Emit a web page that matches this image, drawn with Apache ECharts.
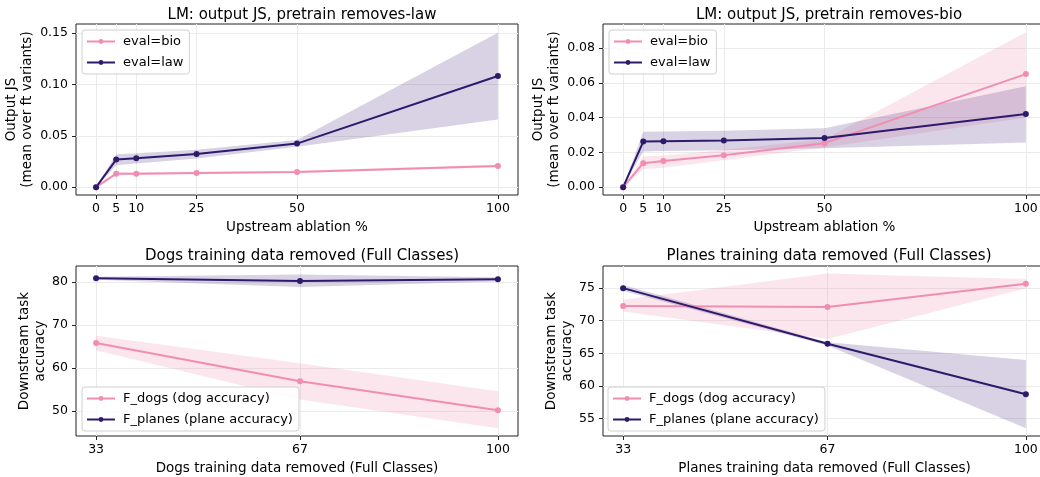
<!DOCTYPE html>
<html>
<head>
<meta charset="utf-8">
<script src="https://cdn.jsdelivr.net/npm/echarts@6/dist/echarts.min.js"></script>
<style>html,body{margin:0;padding:0;background:#fff}#c{width:1040px;height:477px}</style>
</head>
<body>
<div id="c"></div>
<script>
// ---- data ----
const titles = ['LM: output JS, pretrain removes-law','LM: output JS, pretrain removes-bio',
  'Dogs training data removed (Full Classes)','Planes training data removed (Full Classes)'];
const ablationX = [0, 5, 10, 25, 50, 100];
const removedX = [33, 67, 100];
// panel 1: pretrain removes-law
const p1Bio = [0, 0.0132, 0.0132, 0.0139, 0.0149, 0.0207];
const p1BioLo = [0, 0.0118, 0.0120, 0.0128, 0.0138, 0.0192];
const p1BioHi = [0, 0.0146, 0.0145, 0.0150, 0.0160, 0.0222];
const p1Law = [0, 0.0269, 0.0282, 0.0324, 0.0425, 0.1084];
const p1LawLo = [0, 0.0215, 0.0230, 0.0280, 0.0395, 0.0660];
const p1LawHi = [0, 0.0320, 0.0330, 0.0365, 0.0460, 0.1505];
// panel 2: pretrain removes-bio
const p2Bio = [0, 0.0138, 0.0150, 0.0184, 0.0253, 0.0650];
const p2BioLo = [0, 0.0104, 0.0112, 0.0155, 0.0228, 0.0400];
const p2BioHi = [0, 0.0176, 0.0182, 0.0213, 0.0275, 0.0890];
const p2Law = [0, 0.0262, 0.0264, 0.0268, 0.0282, 0.0420];
const p2LawLo = [0, 0.0205, 0.0208, 0.0212, 0.0224, 0.0257];
const p2LawHi = [0, 0.0318, 0.0320, 0.0325, 0.0338, 0.0580];
// panel 3: dogs removed
const p3Dogs = [65.8, 56.9, 50.2];
const p3DogsLo = [64.1, 52.7, 46.0];
const p3DogsHi = [67.5, 61.1, 54.6];
const p3Planes = [80.85, 80.2, 80.6];
const p3PlanesLo = [80.5, 78.8, 80.1];
const p3PlanesHi = [81.2, 81.7, 81.1];
// panel 4: planes removed
const p4Dogs = [72.24, 72.1, 75.66];
const p4DogsLo = [71.4, 67.2, 75.0];
const p4DogsHi = [73.2, 77.25, 76.4];
const p4Planes = [75.0, 66.46, 58.7];
const p4PlanesLo = [74.6, 66.2, 53.5];
const p4PlanesHi = [75.5, 66.7, 63.96];
// ticks
const ablationTicks = [0, 5, 10, 25, 50, 100];
const removedTicks = [33, 67, 100];
const p1YTicks = [0, 0.05, 0.10, 0.15];
const p2YTicks = [0, 0.02, 0.04, 0.06, 0.08];
const p3YTicks = [50, 60, 70, 80];
const p4YTicks = [55, 60, 65, 70, 75];

// ---- styling ----
const PINK = '#f28db2';
const PURPLE = '#2d1a6b';
const PINK_BAND = 'rgba(242,141,178,0.22)';
const PURPLE_BAND = 'rgba(60,30,120,0.2)';
const FONT = 'DejaVu Sans';

const grids = [
  {left: 76, top: 24, width: 442, height: 171},
  {left: 603, top: 24, width: 443, height: 171},
  {left: 76, top: 266, width: 442, height: 170},
  {left: 603, top: 266, width: 443, height: 170}
].map(g => Object.assign(g, {show: true, borderColor: '#222', borderWidth: 1, backgroundColor: 'transparent',
  outerBoundsMode: 'none', containLabel: false}));

function xAxis(i, min, max, ticks, name) {
  return {
    type: 'value', gridIndex: i, min, max, name, nameLocation: 'middle', nameGap: 25,
    nameTextStyle: {fontFamily: FONT, fontSize: 13.5, color: '#000'},
    axisLine: {show: false, onZero: false},
    axisTick: {show: true, length: 4, customValues: ticks, lineStyle: {color: '#222', width: 1}},
    axisLabel: {customValues: ticks, fontFamily: FONT, fontSize: 12.5, color: '#000', margin: 7},
    splitLine: {show: true, lineStyle: {color: '#ebebeb', width: 1}}
  };
}
function yAxis(i, min, max, ticks, name, fmt, gap) {
  return {
    type: 'value', gridIndex: i, min, max, name, nameLocation: 'middle', nameGap: gap, nameRotate: 90,
    nameTextStyle: {fontFamily: FONT, fontSize: 13.5, color: '#000', lineHeight: 16},
    axisLine: {show: false, onZero: false},
    axisTick: {show: true, length: 4, customValues: ticks, lineStyle: {color: '#222', width: 1}},
    axisLabel: {customValues: ticks, fontFamily: FONT, fontSize: 12.5, color: '#000', margin: 8, formatter: fmt},
    splitLine: {show: true, lineStyle: {color: '#ebebeb', width: 1}}
  };
}

function lineSeries(name, idx, xs, ys, color) {
  return {
    type: 'line', name, xAxisIndex: idx, yAxisIndex: idx,
    data: xs.map((x, i) => [x, ys[i]]),
    symbol: 'circle', symbolSize: 6, showSymbol: true,
    lineStyle: {color, width: 2}, itemStyle: {color}, z: 3, silent: true
  };
}
function bandSeries(idx, xs, lo, hi, color) {
  return {
    type: 'custom', name: 'band', xAxisIndex: idx, yAxisIndex: idx, z: 1, silent: true,
    data: xs.map((x, i) => [x, lo[i], hi[i]]),
    encode: {x: 0, y: [1, 2]},
    renderItem: function (params, api) {
      if (params.dataIndex !== 0) return null;
      const pts = [];
      for (let i = 0; i < xs.length; i++) pts.push(api.coord([xs[i], hi[i]]));
      for (let i = xs.length - 1; i >= 0; i--) pts.push(api.coord([xs[i], lo[i]]));
      return {type: 'polygon', shape: {points: pts}, style: {fill: color, stroke: null}};
    }
  };
}

function legend(left, top, names) {
  return {
    data: names, left, top, orient: 'vertical', itemWidth: 28, itemHeight: 6, itemGap: 8,
    backgroundColor: 'rgba(255,255,255,0.85)', borderColor: '#d0d0d0', borderWidth: 1, borderRadius: 3,
    padding: [5, 6, 5, 4], textStyle: {fontFamily: FONT, fontSize: 13, color: '#000', padding: [0, 0, 0, 3]},
    selectedMode: false
  };
}

const f2 = v => v.toFixed(2);
const f0 = v => String(Math.round(v));

const option = {
  animation: false,
  backgroundColor: '#fff',
  title: [
    {text: titles[0], left: 297, top: 3},
    {text: titles[1], left: 824, top: 3},
    {text: titles[2], left: 297, top: 244},
    {text: titles[3], left: 824, top: 244}
  ].map(t => Object.assign(t, {textAlign: 'center', textStyle: {fontFamily: FONT, fontSize: 15, fontWeight: 'normal', color: '#000'}})),
  grid: grids,
  xAxis: [
    xAxis(0, -5, 105, ablationTicks, 'Upstream ablation %'),
    xAxis(1, -5, 105, ablationTicks, 'Upstream ablation %'),
    xAxis(2, 29.65, 103.35, removedTicks, 'Dogs training data removed (Full Classes)'),
    xAxis(3, 29.65, 103.35, removedTicks, 'Planes training data removed (Full Classes)')
  ],
  yAxis: [
    yAxis(0, -0.0076, 0.159, p1YTicks, 'Output JS\n(mean over ft variants)', f2, 41),
    yAxis(1, -0.0045, 0.0938, p2YTicks, 'Output JS\n(mean over ft variants)', f2, 41),
    yAxis(2, 44.2, 83.7, p3YTicks, 'Downstream task\naccuracy', f0, 28),
    yAxis(3, 52.3, 78.4, p4YTicks, 'Downstream task\naccuracy', f0, 28)
  ],
  legend: [
    legend(82, 30, ['eval=bio', 'eval=law']),
    legend(609, 30, ['eval=bio', 'eval=law']),
    legend(82, 387, ['F_dogs (dog accuracy)', 'F_planes (plane accuracy)']),
    legend(608, 387, ['F_dogs (dog accuracy)', 'F_planes (plane accuracy)'])
  ],
  series: [
    bandSeries(0, ablationX, p1BioLo, p1BioHi, PINK_BAND),
    bandSeries(0, ablationX, p1LawLo, p1LawHi, PURPLE_BAND),
    lineSeries('eval=bio', 0, ablationX, p1Bio, PINK),
    lineSeries('eval=law', 0, ablationX, p1Law, PURPLE),
    bandSeries(1, ablationX, p2BioLo, p2BioHi, PINK_BAND),
    bandSeries(1, ablationX, p2LawLo, p2LawHi, PURPLE_BAND),
    lineSeries('eval=bio', 1, ablationX, p2Bio, PINK),
    lineSeries('eval=law', 1, ablationX, p2Law, PURPLE),
    bandSeries(2, removedX, p3DogsLo, p3DogsHi, PINK_BAND),
    bandSeries(2, removedX, p3PlanesLo, p3PlanesHi, PURPLE_BAND),
    lineSeries('F_dogs (dog accuracy)', 2, removedX, p3Dogs, PINK),
    lineSeries('F_planes (plane accuracy)', 2, removedX, p3Planes, PURPLE),
    bandSeries(3, removedX, p4DogsLo, p4DogsHi, PINK_BAND),
    bandSeries(3, removedX, p4PlanesLo, p4PlanesHi, PURPLE_BAND),
    lineSeries('F_dogs (dog accuracy)', 3, removedX, p4Dogs, PINK),
    lineSeries('F_planes (plane accuracy)', 3, removedX, p4Planes, PURPLE)
  ]
};
const chart = echarts.init(document.getElementById('c'), null, {renderer: 'canvas'});
chart.setOption(option);
</script>
</body>
</html>
